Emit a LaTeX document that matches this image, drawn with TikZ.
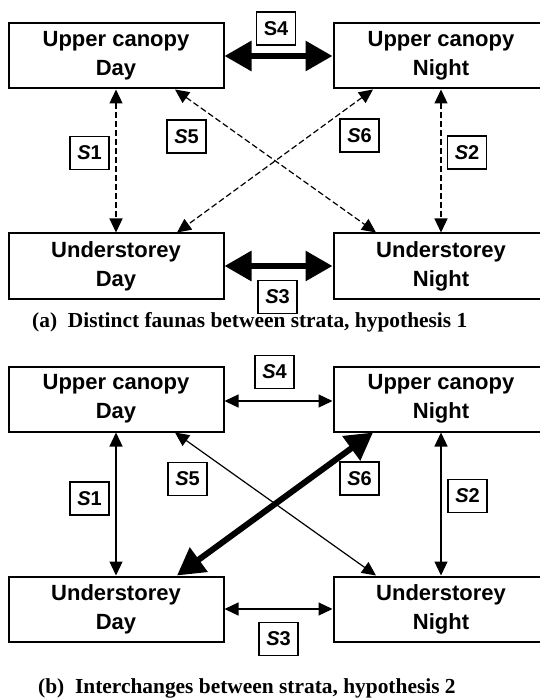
\documentclass[tikz,border=0pt]{standalone}
\usepackage{fontspec}
\setmainfont{Liberation Serif}
\setsansfont{Liberation Sans}
\usetikzlibrary{arrows.meta}

\begin{document}
\begin{tikzpicture}[
  x=1pt,y=-1pt,
  box/.style={draw,line width=2pt,minimum width=215pt,minimum height=65pt,
              inner sep=0pt,align=center,
              font=\sffamily\bfseries\fontsize{22}{29}\selectfont},
  lab/.style={draw,line width=1.2pt,minimum width=39pt,minimum height=33pt,
              inner sep=0pt,font=\sffamily\bfseries\fontsize{20}{24}\selectfont},
  captxt/.style={anchor=west,inner sep=0pt,font=\bfseries\fontsize{21.4}{25}\selectfont},
  tlink/.style={line width=1.2pt,{Triangle[length=14pt,width=13pt]}-{Triangle[length=14pt,width=13pt]}},
  dlink/.style={tlink,dash pattern=on 6pt off 3pt},
  fat/.style={line width=6pt,{Triangle[length=27pt,width=29pt]}-{Triangle[length=27pt,width=29pt]}}
]
\useasboundingbox (0,0) rectangle (539,700);
\def\Slab#1{\textit{S}#1}
% ---- (a) distinct faunas ----
\node[box] (ucd) at (116,56)  {Upper canopy\\Day};
\node[box] (ucn) at (441,56)  {Upper canopy\\Night};
\node[box] (usd) at (116,266) {Understorey\\Day};
\node[box] (usn) at (441,266) {Understorey\\Night};
\draw[fat] (ucd.east) -- (ucn.west);
\draw[fat] (usd.east) -- (usn.west);
\draw[dlink] (ucd.south) -- (usd.north);
\draw[dlink] (ucn.south) -- (usn.north);
\draw[dlink] ([xshift=59pt]ucd.south) -- ([xshift=-65pt]usn.north);
\draw[dlink] ([xshift=-68pt]ucn.south) -- ([xshift=61pt]usd.north);
\node[lab] (a4) at (276,28.5)  {S4};
\node[lab] (a3) at (277.5,297) {\Slab3};
\node[lab] (a1) at (89.5,153)  {\Slab1};
\node[lab] (a2) at (467,152.5) {\Slab2};
\node[lab] (a5) at (186.5,136.5) {\Slab5};
\node[lab] (a6) at (359.5,135.5) {\Slab6};
\node[captxt] (capa) at (32,322) {(a)\ \ Distinct faunas between strata, hypothesis 1};

% ---- (b) interchanges ----
\begin{scope}[yshift=-343pt]
  \node[box] (ucd2) at (116,56)  {Upper canopy\\Day};
  \node[box] (ucn2) at (441,56)  {Upper canopy\\Night};
  \node[box] (usd2) at (116,266) {Understorey\\Day};
  \node[box] (usn2) at (441,266) {Understorey\\Night};
  \draw[tlink] ([yshift=-2pt]ucd2.east) -- ([yshift=-2pt]ucn2.west);
  \draw[tlink] (usd2.east) -- (usn2.west);
  \draw[tlink] (ucd2.south) -- (usd2.north);
  \draw[tlink] (ucn2.south) -- (usn2.north);
  \draw[tlink] ([xshift=59pt]ucd2.south) -- ([xshift=-65pt]usn2.north);
  \draw[fat] ([xshift=-68pt]ucn2.south) -- ([xshift=61pt]usd2.north);
  \node[lab] (b4) at (274.5,29)  {\Slab4};
  \node[lab] (b3) at (278.5,296) {\Slab3};
  \node[lab] (b1) at (89.5,155.5) {\Slab1};
  \node[lab] (b2) at (467.5,153) {\Slab2};
  \node[lab] (b5) at (187.5,136) {\Slab5};
  \node[lab] (b6) at (359.5,135.5) {\Slab6};
\end{scope}
\node[captxt] (capb) at (38,688) {(b)\ \ Interchanges between strata, hypothesis 2};
\end{tikzpicture}
\end{document}
